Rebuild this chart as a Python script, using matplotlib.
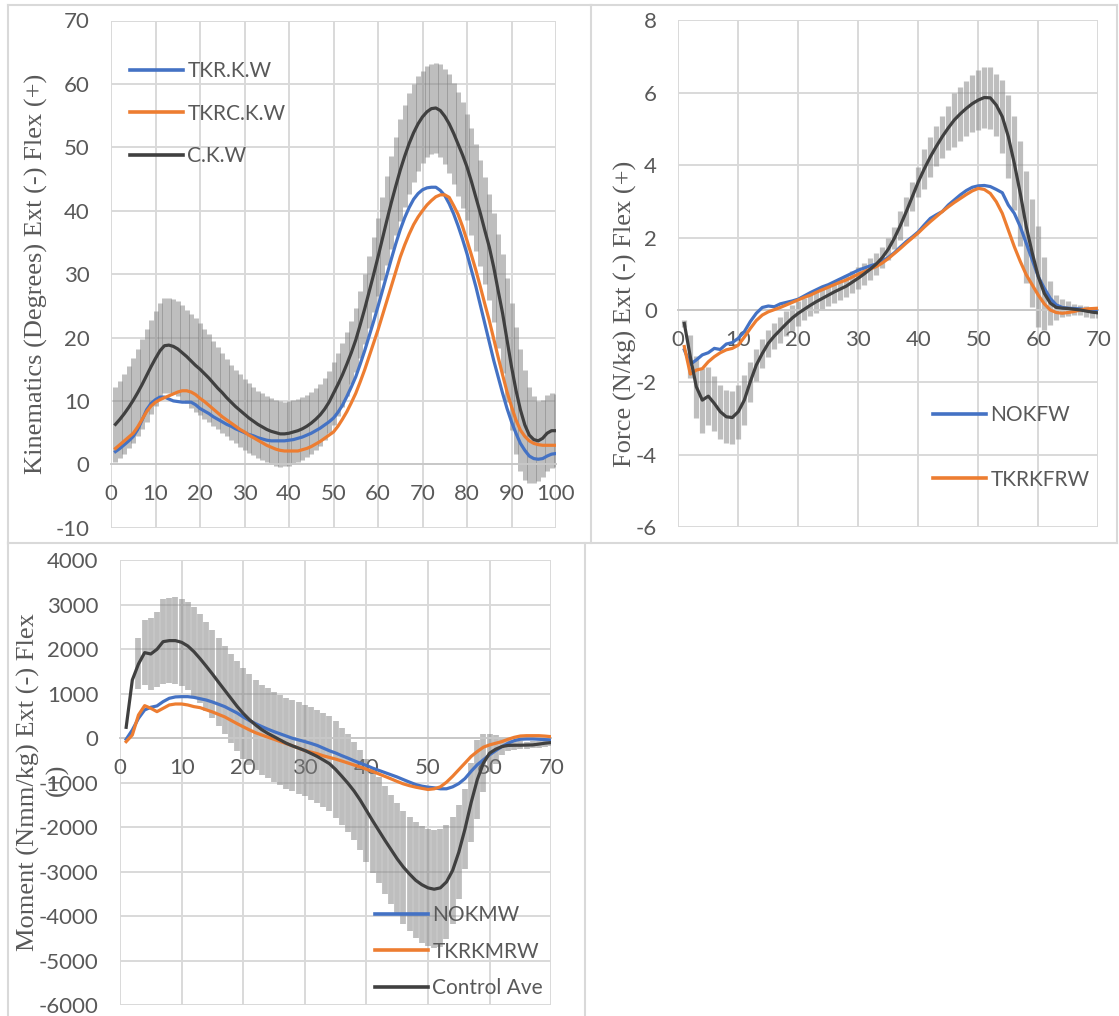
import matplotlib
matplotlib.use('Agg')
import matplotlib.pyplot as plt
from matplotlib.lines import Line2D

plt.rcParams['axes.unicode_minus'] = False

# ---------------- Panel 1: knee kinematics (0-100 % gait) ----------------
kin_x = list(range(1, 101))
kin_tkr = [2.0, 2.5, 3.1, 3.7, 4.4, 5.5, 7.0, 8.6, 9.6, 10.2,
           10.6, 10.6, 10.3, 10.0, 9.9, 9.8, 9.8, 9.8, 9.4, 8.8,
           8.4, 8.0, 7.5, 7.1, 6.7, 6.3, 6.0, 5.6, 5.3, 5.0,
           4.7, 4.5, 4.2, 4.0, 3.8, 3.7, 3.7, 3.7, 3.7, 3.8,
           3.9, 4.1, 4.3, 4.6, 4.9, 5.3, 5.7, 6.2, 6.7, 7.3,
           8.2, 9.3, 10.7, 12.2, 13.8, 15.8, 17.9, 20.2, 22.5, 24.9,
           27.4, 29.9, 32.4, 34.8, 37.0, 38.9, 40.5, 41.8, 42.7, 43.3,
           43.6, 43.7, 43.7, 43.2, 42.4, 41.1, 39.5, 37.6, 35.5, 33.2,
           30.6, 28.0, 25.1, 22.2, 19.3, 16.4, 13.8, 11.2, 8.8, 6.7,
           4.9, 3.3, 2.2, 1.3, 0.9, 0.8, 0.9, 1.3, 1.6, 1.7]
kin_tkrc = [2.5, 3.1, 3.7, 4.3, 4.9, 5.9, 7.1, 8.3, 9.2, 9.8,
            10.2, 10.5, 10.8, 11.1, 11.4, 11.6, 11.6, 11.4, 11.0, 10.4,
            9.9, 9.3, 8.7, 8.1, 7.5, 7.0, 6.5, 6.0, 5.5, 5.1,
            4.6, 4.2, 3.8, 3.4, 3.0, 2.7, 2.4, 2.2, 2.1, 2.1,
            2.1, 2.1, 2.3, 2.5, 2.8, 3.2, 3.6, 4.1, 4.6, 5.1,
            6.0, 7.1, 8.3, 9.7, 11.2, 13.0, 14.9, 17.0, 19.1, 21.2,
            23.5, 25.8, 28.1, 30.4, 32.7, 34.6, 36.3, 37.8, 39.0, 40.0,
            40.9, 41.6, 42.2, 42.5, 42.5, 42.1, 40.8, 39.4, 37.5, 35.3,
            33.0, 30.6, 28.0, 25.3, 22.7, 19.8, 16.9, 14.1, 11.4, 9.1,
            7.0, 5.4, 4.4, 3.7, 3.3, 3.1, 3.0, 3.0, 3.0, 3.0]
kin_ctrl = [6.3, 7.1, 8.0, 9.0, 10.1, 11.3, 12.6, 14.0, 15.4, 16.7,
            17.9, 18.7, 18.8, 18.6, 18.2, 17.6, 17.0, 16.3, 15.6, 15.0,
            14.3, 13.6, 12.8, 12.0, 11.3, 10.5, 9.8, 9.1, 8.5, 7.9,
            7.3, 6.8, 6.3, 5.9, 5.5, 5.2, 5.0, 4.8, 4.8, 4.9,
            5.1, 5.3, 5.6, 6.0, 6.5, 7.1, 7.8, 8.7, 9.8, 11.2,
            12.6, 14.1, 15.8, 17.6, 19.6, 22.0, 24.5, 27.2, 29.9, 32.7,
            35.6, 38.5, 41.3, 43.9, 46.4, 48.6, 50.6, 52.3, 53.7, 54.8,
            55.6, 56.1, 56.2, 55.8, 54.9, 53.7, 52.2, 50.5, 48.8, 46.9,
            44.6, 42.1, 39.6, 36.9, 34.3, 31.1, 27.4, 23.8, 19.6, 15.4,
            11.7, 8.6, 6.2, 4.6, 3.9, 3.7, 4.1, 4.9, 5.3, 5.3]
kin_sd = [5.9, 6.1, 6.3, 6.5, 6.7, 6.9, 7.1, 7.3, 7.4, 7.5,
          7.5, 7.5, 7.5, 7.5, 7.5, 7.5, 7.4, 7.4, 7.4, 7.3,
          7.1, 6.9, 6.7, 6.5, 6.3, 6.1, 5.9, 5.8, 5.7, 5.6,
          5.5, 5.4, 5.3, 5.3, 5.2, 5.2, 5.2, 5.2, 5.1, 5.1,
          5.0, 5.0, 5.0, 4.9, 4.9, 4.9, 4.9, 4.9, 4.9, 5.0,
          5.0, 5.0, 5.0, 5.0, 5.1, 5.3, 5.5, 5.7, 5.9, 6.2,
          6.6, 7.0, 7.4, 7.8, 8.0, 8.0, 7.9, 7.7, 7.5, 7.3,
          7.2, 7.1, 7.1, 7.3, 7.5, 7.8, 8.0, 8.2, 8.3, 8.3,
          8.4, 8.4, 8.4, 8.4, 8.4, 8.6, 9.0, 9.4, 9.8, 10.0,
          10.0, 9.6, 8.6, 7.6, 6.8, 6.3, 6.1, 6.0, 5.9, 5.8]
kin_names = ['TKR.K.W', 'TKRC.K.W', 'C.K.W']
kin_xticks = list(range(0, 101, 10))
kin_yticks = list(range(-10, 71, 10))

# ---------------- Panel 2: knee force (0-70) ----------------
frc_x = list(range(1, 71))
frc_nok = [-1.10, -1.50, -1.38, -1.24, -1.18, -1.06, -1.09, -0.94, -0.90, -0.78,
           -0.60, -0.32, -0.09, 0.07, 0.11, 0.09, 0.17, 0.21, 0.25, 0.30,
           0.39, 0.48, 0.56, 0.64, 0.70, 0.78, 0.86, 0.94, 1.02, 1.10,
           1.16, 1.22, 1.27, 1.35, 1.45, 1.58, 1.74, 1.89, 2.02, 2.16,
           2.35, 2.53, 2.63, 2.72, 2.90, 3.04, 3.18, 3.30, 3.39, 3.43,
           3.44, 3.41, 3.33, 3.24, 2.90, 2.67, 2.30, 1.84, 1.38, 0.92,
           0.60, 0.32, 0.14, 0.07, 0.05, 0.04, 0.03, 0.01, 0.00, 0.00]
frc_tkr = [-1.01, -1.77, -1.66, -1.62, -1.43, -1.29, -1.18, -1.10, -1.06, -0.97,
           -0.75, -0.51, -0.29, -0.14, -0.05, 0.01, 0.07, 0.14, 0.21, 0.28,
           0.35, 0.41, 0.49, 0.56, 0.63, 0.70, 0.77, 0.83, 0.91, 0.99,
           1.06, 1.13, 1.20, 1.30, 1.42, 1.56, 1.70, 1.85, 1.99, 2.13,
           2.29, 2.44, 2.58, 2.72, 2.85, 2.97, 3.08, 3.19, 3.29, 3.36,
           3.33, 3.22, 2.99, 2.67, 2.21, 1.75, 1.34, 0.97, 0.69, 0.41,
           0.17, 0.00, -0.07, -0.09, -0.07, -0.04, 0.00, 0.03, 0.04, 0.05]
frc_ctrl = [-0.37, -1.29, -2.12, -2.49, -2.38, -2.58, -2.81, -2.95, -2.97, -2.81,
            -2.49, -1.98, -1.52, -1.20, -0.92, -0.72, -0.55, -0.38, -0.22, -0.09,
            0.02, 0.13, 0.23, 0.32, 0.41, 0.50, 0.58, 0.66, 0.77, 0.88,
            1.00, 1.13, 1.27, 1.45, 1.68, 1.98, 2.33, 2.72, 3.13, 3.54,
            3.90, 4.23, 4.52, 4.79, 5.03, 5.25, 5.42, 5.57, 5.70, 5.80,
            5.87, 5.86, 5.66, 5.34, 4.79, 4.05, 3.22, 2.30, 1.57, 0.92,
            0.46, 0.19, 0.07, 0.05, 0.04, 0.02, 0.00, -0.03, -0.06, -0.08]
frc_sd = [0.10, 0.60, 0.85, 0.90, 0.80, 0.75, 0.75, 0.73, 0.73, 0.75,
          0.70, 0.55, 0.45, 0.40, 0.38, 0.35, 0.35, 0.35, 0.35, 0.35,
          0.30, 0.30, 0.30, 0.30, 0.30, 0.30, 0.30, 0.30, 0.30, 0.30,
          0.30, 0.30, 0.30, 0.30, 0.30, 0.30, 0.40, 0.40, 0.40, 0.42,
          0.55, 0.55, 0.55, 0.58, 0.60, 0.75, 0.75, 0.75, 0.78, 0.83,
          0.85, 0.85, 0.85, 1.00, 1.15, 1.30, 1.45, 1.55, 1.50, 1.40,
          1.00, 0.60, 0.35, 0.25, 0.20, 0.15, 0.15, 0.15, 0.15, 0.15]
frc_names = ['NOKFW', 'TKRKFRW']
frc_xticks = list(range(0, 71, 10))
frc_yticks = list(range(-6, 9, 2))

# ---------------- Panel 3: knee moment (0-70) ----------------
mom_x = list(range(1, 71))
mom_nok = [-22, 187, 449, 637, 697, 727, 824, 899, 930, 936,
           936, 920, 890, 860, 816, 765, 712, 640, 570, 480,
           400, 330, 265, 205, 150, 100, 50, 0, -37, -74,
           -115, -160, -220, -280, -330, -390, -445, -505, -560, -610,
           -670, -720, -770, -820, -870, -928, -985, -1039, -1075, -1098,
           -1113, -1135, -1135, -1091, -1017, -905, -742, -594, -482, -371,
           -275, -186, -111, -52, -22, -15, -15, -22, -30, -37]
mom_tkr = [-75, 75, 524, 734, 674, 599, 674, 749, 771, 771,
           749, 712, 689, 640, 593, 537, 481, 405, 330, 259,
           190, 126, 75, 25, -22, -72, -120, -170, -222, -274,
           -310, -345, -393, -430, -467, -510, -555, -600, -645, -695,
           -745, -800, -855, -911, -970, -1024, -1065, -1098, -1125, -1150,
           -1135, -1091, -987, -853, -705, -557, -408, -297, -200, -148,
           -111, -74, -22, 22, 52, 59, 59, 59, 50, 37]
mom_ctrl = [247, 1311, 1670, 1925, 1895, 2000, 2172, 2195, 2195, 2157,
            2075, 1947, 1790, 1620, 1445, 1260, 1080, 900, 720, 560,
            420, 300, 195, 110, 37, -37, -111, -170, -222, -274,
            -340, -407, -487, -570, -700, -852, -1010, -1185, -1390, -1620,
            -1850, -2070, -2290, -2500, -2710, -2894, -3050, -3191, -3290, -3361,
            -3391, -3361, -3228, -2968, -2560, -2040, -1447, -928, -557, -334,
            -245, -186, -160, -156, -156, -152, -148, -130, -110, -96]
mom_sd = [0, 0, 573, 730, 805, 843, 950, 950, 970, 980,
          990, 1010, 1000, 1000, 990, 990, 990, 1000, 1010, 1030,
          1020, 1010, 1010, 1010, 1010, 1010, 1020, 1020, 1030, 1030,
          1040, 1050, 1060, 1070, 1080, 1090, 1100, 1110, 1130, 1150,
          1170, 1190, 1210, 1230, 1250, 1270, 1290, 1300, 1310, 1317,
          1320, 1318, 1280, 1206, 1050, 900, 890, 890, 650, 430,
          330, 200, 130, 100, 90, 80, 80, 80, 80, 80]
mom_names = ['NOKMW', 'TKRKMRW', 'Control Ave']
mom_xticks = list(range(0, 71, 10))
mom_yticks = list(range(-6000, 4001, 1000))

# ---------------- styling ----------------
W, H = 1119, 1016
BLUE, ORANGE, DARK = '#4472C4', '#ED7D31', '#404040'
TXT = '#595959'
GRID = '#d9d9d9'
SANS = 'Lato'
SERIF = 'Liberation Serif'
LW = 2.3

fig = plt.figure(figsize=(W / 100, H / 100), dpi=100)


def fx(px):
    return px / W


def fy(py):
    return 1 - py / H


def make_axes(l, r, t, b):
    return fig.add_axes([fx(l), fy(b), fx(r) - fx(l), fy(t) - fy(b)])


def style(ax, xticks, yticks):
    ax.set_xlim(xticks[0], xticks[-1])
    ax.set_ylim(yticks[0], yticks[-1])
    ax.set_xticks(xticks)
    ax.set_yticks(yticks)
    ax.grid(True, color=GRID, lw=1.4)
    ax.set_axisbelow(True)
    for s in ['top', 'right', 'left']:
        ax.spines[s].set_visible(False)
    ax.spines['bottom'].set_position(('data', 0))
    ax.spines['bottom'].set_color('#c8c8c8')
    ax.spines['bottom'].set_linewidth(1.4)
    ax.tick_params(axis='both', length=0, labelsize=16, labelcolor=TXT)
    ax.tick_params(axis='y', pad=15.5)
    ax.tick_params(axis='x', pad=14.5)
    for lab in ax.get_xticklabels() + ax.get_yticklabels():
        lab.set_fontfamily(SANS)


def bars(ax, x, m, sd, width_px):
    lo = [a - s for a, s in zip(m, sd)]
    hi = [a + s for a, s in zip(m, sd)]
    ax.vlines(x, lo, hi, colors='#7f7f7f', alpha=0.5,
              linewidth=width_px * 0.72, capstyle='butt', zorder=2)


def legend(ax, names, colors, left_px, top_px, spacing):
    handles = [Line2D([], [], color=c, lw=LW + 0.3) for c in colors]
    ax.legend(handles, names, loc='upper left',
              bbox_to_anchor=(fx(left_px), fy(top_px)),
              bbox_transform=fig.transFigure, frameon=False,
              borderpad=0, borderaxespad=0, handlelength=2.55,
              handletextpad=0.2, labelspacing=spacing,
              prop={'family': SANS, 'size': 15}, labelcolor=TXT)


# Panel 1
ax1 = make_axes(111, 556, 20.5, 527.7)
style(ax1, kin_xticks, kin_yticks)
bars(ax1, kin_x, kin_ctrl, kin_sd, 5.0)
ax1.plot(kin_x, kin_tkr, color=BLUE, lw=LW, zorder=3)
ax1.plot(kin_x, kin_tkrc, color=ORANGE, lw=LW, zorder=4)
ax1.plot(kin_x, kin_ctrl, color=DARK, lw=LW, zorder=5)
legend(ax1, kin_names, [BLUE, ORANGE, DARK], 130, 61, 1.09)

# Panel 2
ax2 = make_axes(678.3, 1098.3, 20.4, 527.2)
style(ax2, frc_xticks, frc_yticks)
bars(ax2, frc_x, frc_ctrl, frc_sd, 5.2)
ax2.plot(frc_x, frc_nok, color=BLUE, lw=LW, zorder=3)
ax2.plot(frc_x, frc_tkr, color=ORANGE, lw=LW, zorder=4)
ax2.plot(frc_x, frc_ctrl, color=DARK, lw=LW, zorder=5)
legend(ax2, frc_names, [BLUE, ORANGE], 933, 405, 2.15)

# Panel 3
ax3 = make_axes(120, 551.2, 560.3, 1005.3)
style(ax3, mom_xticks, mom_yticks)
bars(ax3, mom_x, mom_ctrl, mom_sd, 5.8)
ax3.plot(mom_x, mom_nok, color=BLUE, lw=LW, zorder=3)
ax3.plot(mom_x, mom_tkr, color=ORANGE, lw=LW, zorder=4)
ax3.plot(mom_x, mom_ctrl, color=DARK, lw=LW, zorder=5)
legend(ax3, mom_names, [BLUE, ORANGE, DARK], 375, 905, 0.8)

# Axis titles
fig.text(fx(36), fy(274), 'Kinematics (Degrees) Ext (-) Flex (+)', rotation=90,
         ha='center', va='center', family=SERIF, size=19, color=TXT)
fig.text(fx(625), fy(314), 'Force (N/kg) Ext (-) Flex (+)', rotation=90,
         ha='center', va='center', family=SERIF, size=19, color=TXT)
fig.text(fx(28), fy(782), 'Moment (Nmm/kg) Ext (-) Flex', rotation=90,
         ha='center', va='center', family=SERIF, size=19, color=TXT)
fig.text(fx(57), fy(780), '(+)', rotation=90,
         ha='center', va='center', family=SERIF, size=19, color=TXT)

# Panel borders
border = dict(color='#d9d9d9', lw=1.5, transform=fig.transFigure)
for (x0, y0, x1, y1) in [(8, 5, 591, 5), (8, 5, 8, 543), (591, 5, 591, 543),
                         (591, 5, 1117, 5), (1117, 5, 1117, 543), (8, 543, 1117, 543),
                         (8, 543, 8, 1016), (585, 543, 585, 1016)]:
    fig.add_artist(Line2D([fx(x0), fx(x1)], [fy(y0), fy(y1)], **border))

fig.savefig('out.png', dpi=100)
